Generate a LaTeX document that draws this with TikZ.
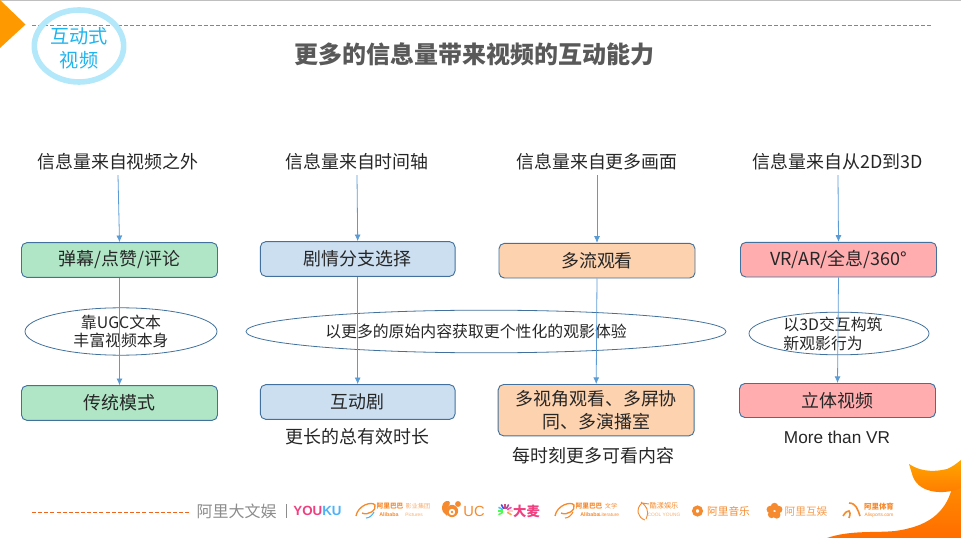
\documentclass[tikz,border=0pt]{standalone}
\usepackage{fontspec}
\setmainfont{Noto Sans CJK SC}
\newfontfamily\latfont{Liberation Sans}
\usetikzlibrary{shapes.geometric,arrows.meta}
\definecolor{lineblue}{HTML}{5B9BD5}
\definecolor{edgeblue}{HTML}{41719C}
\definecolor{boxgreen}{HTML}{B0E6C6}
\definecolor{boxblue}{HTML}{CCDFF1}
\definecolor{boxorange}{HTML}{FDD2AE}
\definecolor{boxred}{HTML}{FFADAF}
\definecolor{tagline}{HTML}{B3E7FA}
\definecolor{tagtext}{HTML}{1FB4EE}
\definecolor{dashorange}{HTML}{F0651E}
\definecolor{logoorange}{HTML}{F58A2E}
\definecolor{logopink}{HTML}{F0407F}
\definecolor{logoblue}{HTML}{4DB2F7}
\tikzset{
  body/.style={font=\fontsize{13.45pt}{17pt}\selectfont,text=black!85,align=center},
  small/.style={font=\fontsize{11.9pt}{14pt}\selectfont,text=black!85,align=center},
  box/.style={draw=edgeblue,rounded corners=4pt,line width=.7pt,body},
  oval/.style={draw=edgeblue,ellipse,line width=.6pt,inner sep=0pt,small},
  flow/.style={draw=lineblue,line width=.6pt,-{Latex[length=5pt,width=4.5pt]}},
  rule/.style={dashorange,dash pattern=on 3pt off 1.6pt,line width=.7pt},
  logo/.style={text=logoorange,inner sep=0pt,font=\fontsize{8pt}{9pt}\selectfont},
  tiny/.style={text=logoorange,inner sep=0pt,font=\fontsize{4.6pt}{5pt}\selectfont},
  tinier/.style={text=logoorange,inner sep=0pt,font=\fontsize{3.6pt}{4pt}\latfont}
}
\begin{document}
\begin{tikzpicture}[x=.75pt,y=-.75pt]
\useasboundingbox (0,0) rectangle (961,538);

% top strip
\fill[black!25] (0,0) rectangle (961,1);
\fill[orange!80!yellow] (0,0) -- (25.5,24.5) -- (0,48) -- cycle;
\draw[rule] (32,25) -- (933,25);
\node[draw=tagline,ellipse,line width=4.2pt,minimum width=67pt,minimum height=54pt,inner sep=0pt] (tag) at (79,46) {};
\node[text=tagtext,align=center,font=\fontsize{14.4pt}{18pt}\selectfont] (tagtext) at (79,48) {互动式\\视频};
\node[font=\fontsize{18pt}{20pt}\selectfont\bfseries,text=black!65] (title) at (474.5,54) {更多的信息量带来视频的互动能力};

% sources
\node[body] (src1) at (118,162) {信息量来自视频之外};
\node[body] (src2) at (357,162) {信息量来自时间轴};
\node[body] (src3) at (597,162) {信息量来自更多画面};
\node[body] (src4) at (838,162) {信息量来自从2D到3D};

% upper boxes
\node[box,fill=boxgreen,minimum width=147pt,minimum height=26pt] (up1) at (119.5,260) {弹幕/点赞/评论};
\node[box,fill=boxblue,minimum width=146pt,minimum height=26pt] (up2) at (357.7,259) {剧情分支选择};
\node[box,fill=boxorange,minimum width=147pt,minimum height=26pt] (up3) at (597,260.7) {多流观看};
\node[box,fill=boxred,minimum width=147pt,minimum height=26pt] (up4) at (838.5,259.7) {VR/AR/全息/360°};

% lower boxes
\node[box,fill=boxgreen,minimum width=147pt,minimum height=26pt] (low1) at (119.5,403) {传统模式};
\node[box,fill=boxblue,minimum width=146pt,minimum height=26pt] (low2) at (357.7,402) {互动剧};
\node[box,fill=boxorange,minimum width=147pt,minimum height=38.5pt] (low3) at (596.2,410.2) {多视角观看、多屏协\\同、多演播室};
\node[box,fill=boxred,minimum width=147pt,minimum height=25.5pt] (low4) at (837.5,400.5) {立体视频};

% ovals
\node[oval,minimum width=144pt,minimum height=32pt] (oval1) at (121,331.5) {靠UGC文本\\丰富视频本身};
\node[oval,minimum width=360pt,minimum height=32pt] (oval2) at (486,331.5) {};
\node[small] (ovaltext2) at (476,331.5) {以更多的原始内容获取更个性化的观影体验};
\node[oval,minimum width=135pt,minimum height=32pt] (oval3) at (839,333.5) {};
\node[small,align=left] (ovaltext3) at (833,334) {以3D交互构筑\\新观影行为};

% captions
\node[body] (cap2) at (357.5,437) {更长的总有效时长};
\node[body] (cap3) at (593.5,456) {每时刻更多可看内容};
\node[body,font=\fontsize{12.9pt}{15pt}\latfont] (cap4) at (837,437) {More than VR};

% connectors
\foreach \n in {1,2,3,4} {
  \draw[flow] (src\n.south) -- (up\n.north);
  \draw[flow] (up\n.south) -- (low\n.north);
}

% bottom strip
\draw[rule] (32,512) -- (190,512);
\node[text=black!45,inner sep=0pt,font=\fontsize{12pt}{13pt}\selectfont] (brand) at (236.5,511) {阿里大文娱};
\draw[black!45,line width=.5pt] (286,504) -- (286,518);
\node[inner sep=0pt,font=\fontsize{10pt}{12pt}\latfont\bfseries] (youku) at (317.5,511) {\textcolor{logopink}{YOU}\textcolor{logoblue}{KU}};

% alibaba pictures
\draw[logoorange,line width=1pt] (356,516) .. controls (358,505) and (372,501) .. (375,505) .. controls (377,510) and (368,516) .. (362,513);
\draw[logoblue,line width=.8pt] (366,518) .. controls (369,518) and (372,516) .. (374,512);
\node[tiny,font=\fontsize{5pt}{5pt}\selectfont\bfseries] (pic1) at (390,506) {阿里巴巴};
\node[tinier,font=\fontsize{4pt}{4pt}\latfont\bfseries] (pic2) at (389,515) {Alibaba};
\node[tiny,opacity=.7] (pic3) at (418,506) {影业集团};
\node[tinier,opacity=.7] (pic4) at (414,515) {Pictures};

% uc
\fill[logoorange] (452,511) circle (4.6pt);
\fill[white] (452,512) circle (2.4pt);
\fill[logoorange] (452,512) circle (1pt);
\fill[logoorange] (443,512) .. controls (440,505) and (444,500) .. (449,501) .. controls (451,503) and (449,506) .. (447,508) -- (447,516) -- cycle;
\fill[logoorange] (458,504) circle (2.2pt);
\node[logo,font=\fontsize{11pt}{12pt}\latfont] (uc) at (474,511) {UC};

% damai
\foreach \ang/\col in {0/pink,30/magenta,60/violet,90/purple,120/blue,150/cyan,180/green,210/green,330/orange} {
  \draw[\col!70,line width=1.2pt] (505,511) ++(-\ang:2.5) -- ++(-\ang:5);
}
\node[logo,text=logopink,font=\fontsize{10pt}{12pt}\selectfont\bfseries] (damai) at (526.5,511) {大麦};

% alibaba literature
\draw[logoorange,line width=1pt] (555,516) .. controls (557,505) and (571,501) .. (574,505) .. controls (576,510) and (567,516) .. (561,513);
\draw[logoorange,line width=.8pt] (565,518) .. controls (568,518) and (571,516) .. (573,512);
\node[tiny,font=\fontsize{5pt}{5pt}\selectfont\bfseries] (lit1) at (589,506) {阿里巴巴};
\node[tiny] (lit2) at (611,506) {文学};
\node[tinier,font=\fontsize{4pt}{4pt}\latfont\bfseries] (lit3) at (590,515) {Alibaba};
\node[tinier] (lit4) at (609,515) {Literature};

% cool young
\draw[logoorange,line width=.7pt] (642,503) .. controls (635,509) and (638,518) .. (645,520) (641,502) .. controls (646,506) and (650,510) .. (646,519) (642,503) -- (649,504);
\node[tiny,font=\fontsize{5.4pt}{6pt}\selectfont] (cool1) at (664,506) {酷漾娱乐};
\node[tinier,opacity=.7] (cool2) at (664,515) {COOL YOUNG};

% music
\draw[logoorange,line width=2.6pt] (697.5,511) circle (2.8pt);
\node[logo] (music) at (728.5,511) {阿里音乐};

% interactive
\foreach \ang in {20,90,160,230,300} {
  \fill[logoorange] (774.5,511) ++(-\ang:4.5) circle (2.8pt);
}
\node[logo,opacity=.85] (hy) at (806,511) {阿里互娱};

% sports
\draw[logoorange,line width=1.2pt] (843,516) .. controls (848,508) and (852,510) .. (849,518) (849,503) .. controls (856,503) and (858,510) .. (860,516);
\node[tiny,font=\fontsize{5.6pt}{6pt}\selectfont\bfseries] (sport1) at (879,507) {阿里体育};
\node[tinier] (sport2) at (879,515) {Alisports.com};

% corner
\shade[top color=orange!90!yellow,bottom color=orange!85!red] (827,538) .. controls (850,530) and (875,533) .. (895,531) .. controls (925,527) and (945,515) .. (952,488) -- (961,484) -- (961,538) -- cycle;
\shade[top color=orange!70!yellow,bottom color=orange!95!red] (909,464) .. controls (918,470) and (930,473) .. (947,469) .. controls (952,467) and (956,464) .. (961,460) -- (961,488) .. controls (945,495) and (920,494) .. (913,477) -- cycle;
\end{tikzpicture}
\end{document}
